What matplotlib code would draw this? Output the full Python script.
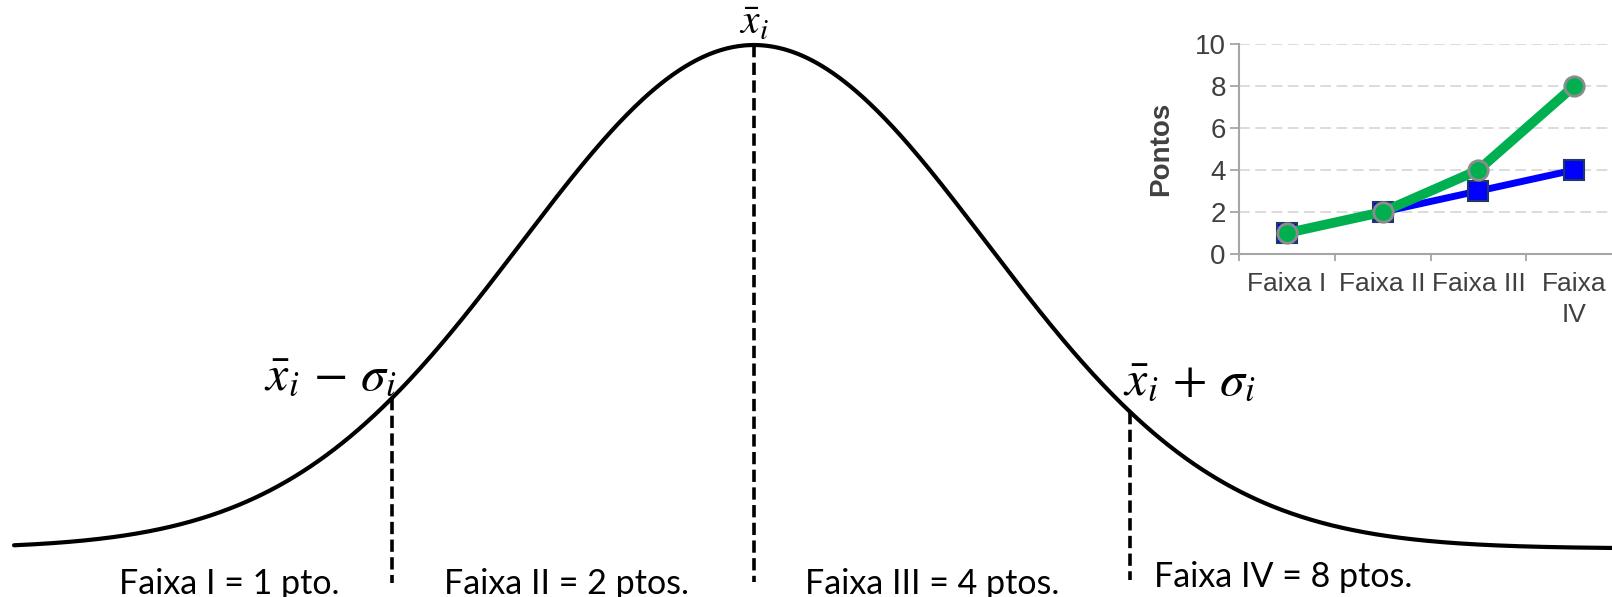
import numpy as np
import matplotlib
matplotlib.use('Agg')
import matplotlib.pyplot as plt

plt.rcParams['mathtext.fontset'] = 'stix'

# ---------------------------------------------------------------------------
# Dados
# ---------------------------------------------------------------------------

# curva normal (unidade = distancia media ate as linhas de sigma)
CURVE_SD = 0.631
CURVE_X_START = -2.005
CURVE_X_END = 2.33

# posicoes das linhas tracejadas: media - sigma, media, media + sigma
MARK_X = [-0.98, 0.0, 1.02]
MARK_BOTTOM = [-0.068, -0.066, -0.062]

BAND_LABELS = ['Faixa I = 1 pto.', 'Faixa II = 2 ptos.',
               'Faixa III = 4 ptos.', 'Faixa IV = 8 ptos.']
BAND_X = [-1.423, -0.509, 0.482, 1.434]
BAND_Y = [-0.090, -0.090, -0.090, -0.076]

# grafico pequeno
CATEGORIES = ['Faixa I', 'Faixa II', 'Faixa III', 'Faixa\nIV']
PTS_LINEAR = [1, 2, 3, 4]
PTS_DOUBLE = [1, 2, 4, 8]
Y_TICKS = [0, 2, 4, 6, 8, 10]

# ---------------------------------------------------------------------------
# Figura
# ---------------------------------------------------------------------------

fig = plt.figure(figsize=(16.12, 5.97), dpi=100)
ax = fig.add_axes([0, 0, 1, 1])
ax.set_xlim(-2.043, 2.325)
ax.set_ylim(-0.0963, 1.0894)
ax.axis('off')

x = np.linspace(CURVE_X_START, CURVE_X_END, 800)
y = np.exp(-x**2 / (2 * CURVE_SD**2))
ax.plot(x, y, color='black', lw=3.0, solid_capstyle='round')

for mx, mb in zip(MARK_X, MARK_BOTTOM):
    top = np.exp(-mx**2 / (2 * CURVE_SD**2))
    ax.plot([mx, mx], [top, mb], color='black', lw=2.6,
            dashes=(3.4, 1.5))

for lab, bx, by in zip(BAND_LABELS, BAND_X, BAND_Y):
    ax.text(bx, by, lab, ha='center', va='baseline', fontsize=24.5,
            family='Lato', color='black')

# rotulos matematicos
ax.text(0.0, 1.022, r'$\bar{x}_i$', ha='center', va='baseline',
        fontsize=30, color='black')
ax.text(-1.146, 0.317, r'$\bar{x}_i\,-\,\sigma_i$', ha='center',
        va='baseline', fontsize=36, color='black')
ax.text(1.18, 0.307, r'$\bar{x}_i\,+\,\sigma_i$', ha='center',
        va='baseline', fontsize=36, color='black')

# ---------------------------------------------------------------------------
# Grafico inserido
# ---------------------------------------------------------------------------

ins = fig.add_axes([1239 / 1612, (597 - 254) / 597, 383 / 1612, 210 / 597])
ins.set_xlim(-0.5, 3.5)
ins.set_ylim(0, 10)
cat_x = np.arange(len(CATEGORIES))

ins.plot(cat_x, PTS_LINEAR, color='#0000ff', lw=5, marker='s', ms=14,
         mfc='#0000ff', mec='#1f3864', mew=1.5, zorder=3)
ins.plot(cat_x, PTS_DOUBLE, color='#00b050', lw=7, marker='o', ms=14,
         mfc='#00b050', mec='#8c8c8c', mew=2, zorder=4)

for spine in ['top', 'right']:
    ins.spines[spine].set_visible(False)
for spine in ['left', 'bottom']:
    ins.spines[spine].set_color('#a6a6a6')
    ins.spines[spine].set_linewidth(1.5)

ins.set_yticks(Y_TICKS)
ins.set_yticklabels([str(v) for v in Y_TICKS])
ins.tick_params(axis='y', length=6.5, width=1.3, color='#a6a6a6',
                labelsize=20, labelcolor='#404040', pad=3)
ins.set_xticks(cat_x)
ins.set_xticklabels(CATEGORIES, family='Liberation Sans')
ins.set_xticks(np.arange(-0.5, 3.5, 1.0), minor=True)
ins.tick_params(axis='x', which='major', length=0, labelsize=19,
                labelcolor='#404040', pad=13)
ins.tick_params(axis='x', which='minor', length=5, width=1.3,
                color='#a6a6a6')
for t in ins.get_yticklabels():
    t.set_family('Liberation Sans')
for t in ins.get_xticklabels():
    t.set_linespacing(1.35)

ins.yaxis.grid(True, color='#d9d9d9', lw=1.3, dashes=(6, 3))
ins.set_axisbelow(True)
ins.set_ylabel('Pontos', fontsize=20, fontweight='bold', color='#404040',
               family='Liberation Sans')
ins.yaxis.set_label_coords(-0.17, 0.5)
ins.patch.set_alpha(0)

fig.savefig('out.png', dpi=100)
